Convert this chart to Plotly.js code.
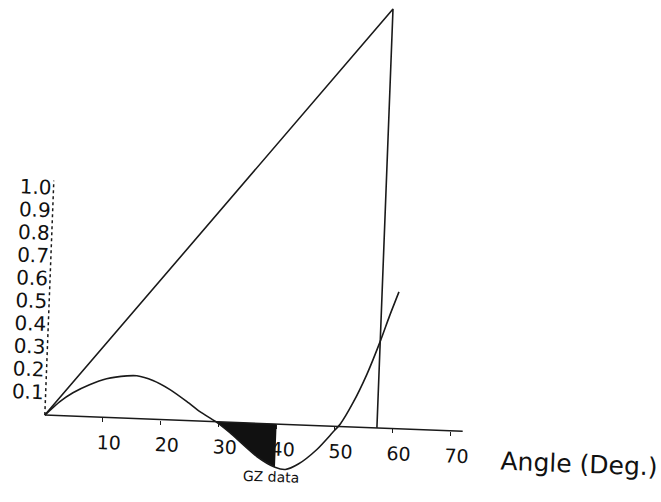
<!DOCTYPE html>
<html>
<head>
<meta charset="utf-8">
<script src="https://cdn.plot.ly/plotly-3.0.1.min.js"></script>
<style>
html,body{margin:0;padding:0;background:#fff;overflow:hidden;width:661px;height:502px;}
#chart{position:absolute;left:0;top:-30px;width:661px;height:570px;transform:rotate(2.2deg);transform-origin:45px 445.5px;}
</style>
</head>
<body>
<div id="chart"></div>
<script>
// ---- data ----
const angles = [0, 2.5, 4.7, 7.5, 10.4, 13.9, 15.6, 18.4, 21.4, 24.4, 26.7, 29.5, 32, 36.8, 40, 41.8, 44, 47.1, 49.7, 51, 53, 55.2, 57.3, 58.7, 60.2];
const gz     = [0, 0.062, 0.103, 0.141, 0.170, 0.186, 0.188, 0.170, 0.133, 0.083, 0.041, 0, -0.046, -0.146, -0.19, -0.198, -0.172, -0.105, -0.028, 0.012, 0.105, 0.232, 0.38, 0.49, 0.6];
const gmLineX = [0, 57.3, 57.3];
const gmLineY = [0, 1.84, 0];
const shadeFrom = 29.5, shadeTo = 40;
const xTickVals = [10, 20, 30, 40, 50, 60, 70];
const xTickText = ['10', '20', '30', '40', '50', '60', '70'];
const yTickVals = [0.1, 0.2, 0.3, 0.4, 0.5, 0.6, 0.7, 0.8, 0.9, 1.0];
const yTickText = ['0.1', '0.2', '0.3', '0.4', '0.5', '0.6', '0.7', '0.8', '0.9', '1.0'];
const xAxisEnd = 72.1, yAxisEnd = 1.03;

// ---- layout geometry ----
const W = 661, H = 570;
const SX = 5.8, SY = 228;          // px per degree, px per unit
const OX = 45, OY = 445.5;         // origin inside the div
const X_MIN = -1, X_MAX = 74, Y_MIN = -0.5;
const Y_MAX = OY / SY;
const plotLeft = OX + X_MIN * SX;
const plotW = (X_MAX - X_MIN) * SX;
const plotBottom = OY - Y_MIN * SY;

const shadeX = [], shadeY = [];
angles.forEach((a, i) => { if (a >= shadeFrom && a <= shadeTo) { shadeX.push(a); shadeY.push(gz[i]); } });

const ink = '#1a1a1a';
const font = 'DejaVu Sans, Verdana, sans-serif';

const traces = [
  {x: shadeX, y: shadeY, mode: 'lines', fill: 'tozeroy', fillcolor: '#111',
   line: {width: 0, shape: 'spline', smoothing: 0.7, color: '#111'}, hoverinfo: 'skip'},
  {x: angles, y: gz, mode: 'lines', line: {color: ink, width: 1.6, shape: 'spline', smoothing: 0.7}},
  {x: gmLineX, y: gmLineY, mode: 'lines', line: {color: ink, width: 1.6}}
];

const layout = {
  width: W, height: H,
  margin: {l: plotLeft, r: W - plotLeft - plotW, t: 0, b: H - plotBottom, pad: 0},
  paper_bgcolor: '#fff', plot_bgcolor: '#fff',
  showlegend: false,
  xaxis: {
    range: [X_MIN, X_MAX], anchor: 'free', position: (0 - Y_MIN) / (Y_MAX - Y_MIN),
    showgrid: false, zeroline: false, showline: false,
    ticks: 'outside', ticklen: 4, tickwidth: 1.2, tickcolor: ink,
    tickvals: xTickVals, ticktext: xTickText,
    tickfont: {family: font, size: 19, color: '#111'},
    ticklabelshift: 7, ticklabelstandoff: 4
  },
  yaxis: {
    range: [Y_MIN, Y_MAX], anchor: 'free', position: (0 - X_MIN) / (X_MAX - X_MIN),
    showgrid: false, zeroline: false, showline: false,
    ticks: '', tickvals: yTickVals, ticktext: yTickText,
    tickfont: {family: font, size: 20, color: '#111'},
    ticklabelstandoff: 2
  },
  shapes: [
    {type: 'line', xref: 'x', yref: 'y', x0: 0, y0: 0, x1: xAxisEnd, y1: 0, line: {color: ink, width: 1.5}},
    {type: 'line', xref: 'x', yref: 'y', x0: 0, y0: 0, x1: 0, y1: yAxisEnd, line: {color: ink, width: 1.5, dash: 'dot'}}
  ],
  annotations: [
    {text: 'Angle (Deg.)', xref: 'paper', yref: 'y',
     x: (92.3 - X_MIN) / (X_MAX - X_MIN), y: -0.123, xanchor: 'center', yanchor: 'middle',
     showarrow: false, font: {family: font, size: 25, color: '#111'}},
    {text: 'GZ data', xref: 'x', yref: 'y', x: 39.4, y: -0.23, xanchor: 'center', yanchor: 'middle',
     showarrow: false, font: {family: font, size: 14, color: '#111'}}
  ]
};

Plotly.newPlot('chart', traces, layout, {staticPlot: true, displayModeBar: false});
</script>
</body>
</html>
